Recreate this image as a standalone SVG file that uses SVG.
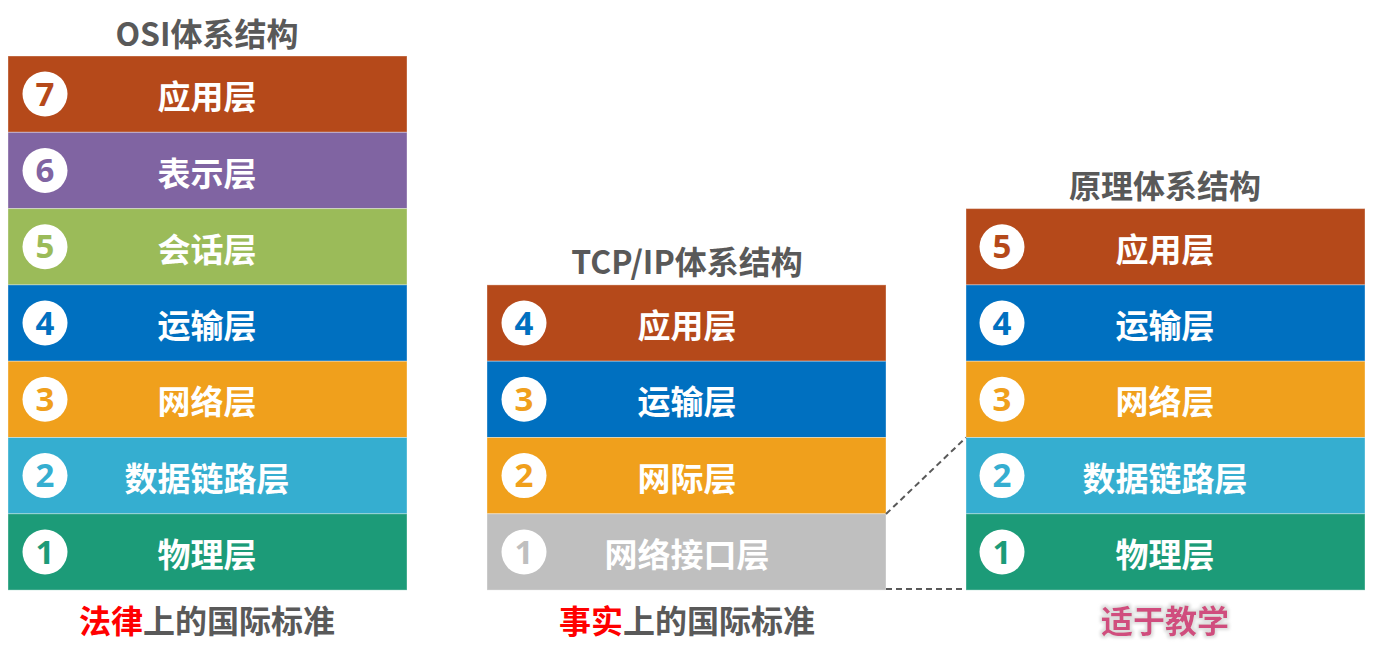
<svg xmlns="http://www.w3.org/2000/svg" width="1385" height="651" viewBox="0 0 1385 651">
<defs>
<style>
.t{font-family:"Noto Sans CJK SC","Noto Sans",sans-serif;font-weight:bold;fill:#595959;font-size:32px;text-anchor:middle}
.l{font-family:"Noto Sans CJK SC","Noto Sans",sans-serif;font-weight:bold;fill:#ffffff;font-size:33px;text-anchor:middle;dominant-baseline:central}
.n{font-family:"Open Sans","Noto Sans",sans-serif;font-weight:bold;font-size:33px;text-anchor:middle;dominant-baseline:central}
.b{font-family:"Noto Sans CJK SC","Noto Sans",sans-serif;font-weight:bold;font-size:32px;text-anchor:middle}
.r{stroke:#ffffff;stroke-opacity:0.35;stroke-width:1}
.c{fill:#ffffff}
.d{fill:none;stroke:#595959;stroke-width:2;stroke-dasharray:6 4}
</style>
<filter id="glow" x="-20%" y="-40%" width="140%" height="180%">
<feMorphology in="SourceAlpha" operator="dilate" radius="2" result="d"/>
<feGaussianBlur in="d" stdDeviation="1.5" result="b"/>
<feFlood flood-color="#dddddd"/>
<feComposite in2="b" operator="in" result="s"/>
<feMerge><feMergeNode in="s"/><feMergeNode in="SourceGraphic"/></feMerge>
</filter>
</defs>
<rect width="1385" height="651" fill="#ffffff"/>

<!-- OSI -->
<g id="osi">
<text class="t" x="207" y="46">OSI体系结构</text>
<g id="osi7"><rect class="r" x="8" y="56" width="399" height="76.3" fill="#B5491A"/><circle class="c" cx="45" cy="94" r="22.5"/><text class="n" x="45" y="93" fill="#B5491A">7</text><text class="l" x="207" y="95">应用层</text></g>
<g id="osi6"><rect class="r" x="8" y="132.3" width="399" height="76.3" fill="#8064A2"/><circle class="c" cx="45" cy="170.5" r="22.5"/><text class="n" x="45" y="169.5" fill="#8064A2">6</text><text class="l" x="207" y="171.5">表示层</text></g>
<g id="osi5"><rect class="r" x="8" y="208.6" width="399" height="76.3" fill="#9BBB59"/><circle class="c" cx="45" cy="246.8" r="22.5"/><text class="n" x="45" y="245.8" fill="#9BBB59">5</text><text class="l" x="207" y="247.8">会话层</text></g>
<g id="osi4"><rect class="r" x="8" y="284.9" width="399" height="76.3" fill="#0070C0"/><circle class="c" cx="45" cy="323" r="22.5"/><text class="n" x="45" y="322" fill="#0070C0">4</text><text class="l" x="207" y="324">运输层</text></g>
<g id="osi3"><rect class="r" x="8" y="361.2" width="399" height="76.3" fill="#F0A01C"/><circle class="c" cx="45" cy="399.3" r="22.5"/><text class="n" x="45" y="398.3" fill="#F0A01C">3</text><text class="l" x="207" y="400.3">网络层</text></g>
<g id="osi2"><rect class="r" x="8" y="437.5" width="399" height="76.3" fill="#35AED0"/><circle class="c" cx="45" cy="475.6" r="22.5"/><text class="n" x="45" y="474.6" fill="#35AED0">2</text><text class="l" x="207" y="476.6">数据链路层</text></g>
<g id="osi1"><rect class="r" x="8" y="513.8" width="399" height="76.3" fill="#1C9B78"/><circle class="c" cx="45" cy="552" r="22.5"/><text class="n" x="45" y="551" fill="#1C9B78">1</text><text class="l" x="207" y="553">物理层</text></g>
<text class="b" x="207" y="633"><tspan fill="#FF0000">法律</tspan><tspan fill="#595959">上的国际标准</tspan></text>
</g>

<!-- TCP/IP -->
<g id="tcpip">
<text class="t" x="687" y="274">TCP/IP体系结构</text>
<g id="tcp4"><rect class="r" x="487" y="284.9" width="399" height="76.3" fill="#B5491A"/><circle class="c" cx="524" cy="323" r="22.5"/><text class="n" x="524" y="322" fill="#0070C0">4</text><text class="l" x="687" y="324">应用层</text></g>
<g id="tcp3"><rect class="r" x="487" y="361.2" width="399" height="76.3" fill="#0070C0"/><circle class="c" cx="524" cy="399.3" r="22.5"/><text class="n" x="524" y="398.3" fill="#F0A01C">3</text><text class="l" x="687" y="400.3">运输层</text></g>
<g id="tcp2"><rect class="r" x="487" y="437.5" width="399" height="76.3" fill="#F0A01C"/><circle class="c" cx="524" cy="475.6" r="22.5"/><text class="n" x="524" y="474.6" fill="#F0A01C">2</text><text class="l" x="687" y="476.6">网际层</text></g>
<g id="tcp1"><rect class="r" x="487" y="513.8" width="399" height="76.3" fill="#BFBFBF"/><circle class="c" cx="524" cy="552" r="22.5"/><text class="n" x="524" y="551" fill="#BFBFBF">1</text><text class="l" x="687" y="553">网络接口层</text></g>
<text class="b" x="687" y="633"><tspan fill="#FF0000">事实</tspan><tspan fill="#595959">上的国际标准</tspan></text>
</g>

<!-- Principle -->
<g id="principle">
<text class="t" x="1165" y="198">原理体系结构</text>
<g id="p5"><rect class="r" x="966" y="208.6" width="399" height="76.3" fill="#B5491A"/><circle class="c" cx="1002" cy="246.8" r="22.5"/><text class="n" x="1002" y="245.8" fill="#B5491A">5</text><text class="l" x="1165" y="247.8">应用层</text></g>
<g id="p4"><rect class="r" x="966" y="284.9" width="399" height="76.3" fill="#0070C0"/><circle class="c" cx="1002" cy="323" r="22.5"/><text class="n" x="1002" y="322" fill="#0070C0">4</text><text class="l" x="1165" y="324">运输层</text></g>
<g id="p3"><rect class="r" x="966" y="361.2" width="399" height="76.3" fill="#F0A01C"/><circle class="c" cx="1002" cy="399.3" r="22.5"/><text class="n" x="1002" y="398.3" fill="#F0A01C">3</text><text class="l" x="1165" y="400.3">网络层</text></g>
<g id="p2"><rect class="r" x="966" y="437.5" width="399" height="76.3" fill="#35AED0"/><circle class="c" cx="1002" cy="475.6" r="22.5"/><text class="n" x="1002" y="474.6" fill="#35AED0">2</text><text class="l" x="1165" y="476.6">数据链路层</text></g>
<g id="p1"><rect class="r" x="966" y="513.8" width="399" height="76.3" fill="#1C9B78"/><circle class="c" cx="1002" cy="552" r="22.5"/><text class="n" x="1002" y="551" fill="#1C9B78">1</text><text class="l" x="1165" y="553">物理层</text></g>
<text class="b" x="1165" y="633" fill="#D04D7E" filter="url(#glow)">适于教学</text>
</g>

<!-- connectors -->
<g id="connectors">
<line class="d" x1="886" y1="514" x2="966" y2="437.5"/>
<line class="d" x1="886" y1="589" x2="966" y2="589"/>
</g>
</svg>
